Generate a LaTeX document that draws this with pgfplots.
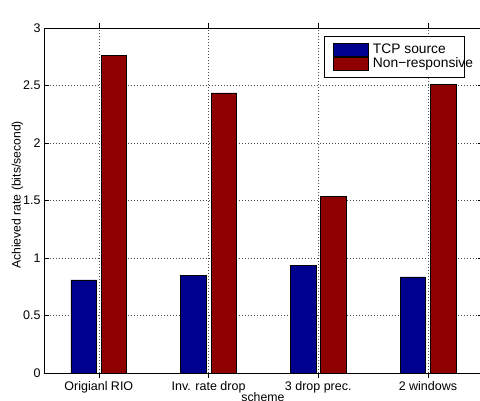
\documentclass[border=0pt]{standalone}
\usepackage{pgfplots}
\pgfplotsset{compat=1.18}
\usepackage{fontspec}
\setmainfont{Liberation Sans}
\definecolor{mblue}{RGB}{0,0,143}
\definecolor{mred}{RGB}{143,0,0}
\begin{document}
\begin{tikzpicture}
\useasboundingbox (-44pt,-28pt) rectangle (436pt,373pt);
\begin{axis}[
  scale only axis,
  width=438.8pt, height=345pt,
  xmin=0.5, xmax=4.5, ymin=0, ymax=3,
  xtick={1,2,3,4},
  xticklabels={Origianl RIO, Inv. rate drop, 3 drop prec., 2 windows},
  ytick={0,0.5,1,1.5,2,2.5,3},
  yticklabels={0,0.5,1,1.5,2,2.5,3},
  tick align=inside,
  major tick length=5pt,
  tick style={black, line width=0.6pt},
  axis line style={line width=0.8pt},
  grid=major,
  grid style={line width=0.5pt, dash pattern=on 0.7pt off 2.3pt, black!70},
  ticklabel style={font=\fontsize{12.5}{14}\selectfont},
  /pgf/number format/assume math mode=true,
  ylabel={Achieved rate (bits/second)},
  ylabel style={at={(axis description cs:-0.0604,0.516)}, anchor=center, font=\fontsize{12.2}{13}\selectfont},
  xlabel={scheme},
  xlabel style={at={(axis description cs:0.499,-0.0696)}, anchor=center, font=\fontsize{12.3}{14}\selectfont},
  ybar,
  bar width=25.5pt,
  legend cell align=left,
  legend style={at={(rel axis cs:0.638,0.977)}, anchor=north west,
    draw=black, line width=0.8pt, inner xsep=0pt, inner ysep=6.5pt,
    font=\fontsize{13.8}{14}\selectfont,
    nodes={inner xsep=0pt, inner ysep=0pt, text height=10pt, text depth=3.5pt},
    row sep=0pt, column sep=0pt},
  legend image code/.code={\draw[#1,draw=black,line width=0.5pt] (0pt,-6.75pt) rectangle (35pt,6.75pt); \path (-9pt,0pt) (39pt,0pt);},
]
\addplot[fill=mblue, draw=black, line width=0.6pt, bar shift=-15.2pt] coordinates {(1,0.809) (2,0.846) (3,0.937) (4,0.835)};
\addplot[fill=mred, draw=black, line width=0.6pt, bar shift=15.2pt] coordinates {(1,2.765) (2,2.435) (3,1.533) (4,2.513)};
\legend{TCP source, Non−responsive\hspace*{-9pt}}
\node[anchor=base west, inner sep=0pt, font=\fontsize{10}{12}\selectfont] at (rel axis cs:0,1) [xshift=-1pt, yshift=6pt] {x 10\raisebox{4pt}{\fontsize{7}{8}\selectfont 6}};
\end{axis}
\end{tikzpicture}
\end{document}
